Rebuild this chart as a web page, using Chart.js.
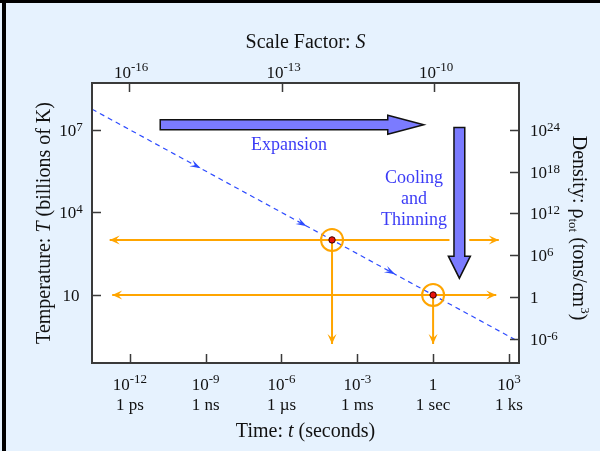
<!DOCTYPE html>
<html>
<head>
<meta charset="utf-8">
<script src="https://cdn.jsdelivr.net/npm/chart.js@4.4.0/dist/chart.umd.min.js"></script>
<style>
  html, body { margin: 0; padding: 0; background: #e6f2fe; }
  canvas { display: block; }
</style>
</head>
<body>
<canvas id="cosmo" width="600" height="451"></canvas>
<script>
// values are log10 of the quantities
const logTime = [-13.5, -4, 0, 3.4];        // time (s)
const logTemp = [7.75, 3, 1, -0.7];          // temperature (billions of K)

// marked epochs
const eventTime = [-4, 0];
const eventTemp = [3, 1];
const guideLeft = [-12.8, -12.7];
const guideRight = [2.6, 2.5];
const guideFloor = [-0.78, -0.78];

// little direction arrows on the dashed track
const flowTime = [-9.2, -5.0, -1.5];
const flowTemp = [5.6, 3.5, 1.75];

// big annotation arrows: [tail, tip]
const expansionTime = [-10.8, -0.37];
const expansionTemp = [7.18, 7.18];
const coolingTime = [1.04, 1.04];
const coolingTemp = [7.08, 1.61];

// tick labels
const timeTicks = [-12, -9, -6, -3, 0, 3];
const timeUnits = ['1 ps', '1 ns', '1 \u00b5s', '1 ms', '1 sec', '1 ks'];
const scaleTicks = [-16, -13, -10];
const tempTicks = [1, 4, 7];
const densityTicks = [-6, 0, 6, 12, 18, 24];

const SERIF = '"Liberation Serif", "DejaVu Serif", serif';
const ORANGE = '#ffa500';
const TRACK = '#2d4bff';
const TEXTBLUE = '#3c3cf6';

function fixed(size, key) {
    return function (scale) { scale[key] = size; };
}

function powerParts(e) {
    if (e === 0) return ['1', ''];
    if (e === 1) return ['10', ''];
    return ['10', String(e)];
}

// draw "10^e" with a raised exponent
function drawPower(ctx, e, x, y, align, raise) {
    const [base, exp] = powerParts(e);
    ctx.font = '17px ' + SERIF;
    const bw = ctx.measureText(base).width;
    ctx.font = '13px ' + SERIF;
    const ew = exp ? ctx.measureText(exp).width : 0;
    const total = bw + ew;
    let x0 = x;
    if (align === 'center') x0 = x - total / 2;
    if (align === 'right') x0 = x - total;
    ctx.textAlign = 'left';
    ctx.textBaseline = 'alphabetic';
    ctx.font = '17px ' + SERIF;
    ctx.fillText(base, x0, y);
    if (exp) {
        ctx.font = '13px ' + SERIF;
        ctx.fillText(exp, x0 + bw, y - raise);
    }
}

// draw a run of [text, font, dy] pieces starting at x
function drawRun(ctx, parts, x, y, align) {
    let total = 0;
    parts.forEach(p => { ctx.font = p[1]; total += ctx.measureText(p[0]).width; });
    let cx = align === 'center' ? x - total / 2 : x;
    ctx.textAlign = 'left';
    ctx.textBaseline = 'alphabetic';
    parts.forEach(p => {
        ctx.font = p[1];
        ctx.fillText(p[0], cx, y + (p[2] || 0));
        cx += ctx.measureText(p[0]).width;
    });
}

function blockArrow(ctx, x1, y1, x2, y2, shaft, head, headLen) {
    const ang = Math.atan2(y2 - y1, x2 - x1);
    const len = Math.hypot(x2 - x1, y2 - y1);
    ctx.save();
    ctx.translate(x1, y1);
    ctx.rotate(ang);
    ctx.beginPath();
    ctx.moveTo(0, -shaft);
    ctx.lineTo(len - headLen, -shaft);
    ctx.lineTo(len - headLen, -head);
    ctx.lineTo(len, 0);
    ctx.lineTo(len - headLen, head);
    ctx.lineTo(len - headLen, shaft);
    ctx.lineTo(0, shaft);
    ctx.closePath();
    ctx.restore();
}

function barbHead(ctx, x, y, ang, len, half, color) {
    ctx.save();
    ctx.translate(x, y);
    ctx.rotate(ang);
    ctx.beginPath();
    ctx.moveTo(0, 0);
    ctx.lineTo(-len, -half);
    ctx.lineTo(-len * 0.6, 0);
    ctx.lineTo(-len, half);
    ctx.closePath();
    ctx.fillStyle = color;
    ctx.fill();
    ctx.restore();
}

const decor = {
    id: 'decor',
    beforeDraw(chart) {
        const ctx = chart.ctx;
        const a = chart.chartArea;
        ctx.save();
        ctx.fillStyle = '#e6f2fe';
        ctx.fillRect(0, 0, chart.width, chart.height);
        ctx.fillStyle = '#000';
        ctx.fillRect(0, 0, chart.width, 3);
        ctx.fillRect(2, 0, 4, chart.height);
        ctx.fillStyle = '#fff';
        ctx.fillRect(a.left, a.top, a.right - a.left, a.bottom - a.top);
        ctx.restore();
    },
    afterDatasetsDraw(chart) {
        const ctx = chart.ctx;
        const sx = chart.scales.x, sy = chart.scales.y;
        ctx.save();

        // orange guide arrowheads
        eventTime.forEach((t, i) => {
            const yy = sy.getPixelForValue(eventTemp[i]);
            barbHead(ctx, sx.getPixelForValue(guideLeft[i]), yy, Math.PI, 10, 4.5, ORANGE);
            barbHead(ctx, sx.getPixelForValue(guideRight[i]), yy, 0, 10, 4.5, ORANGE);
            barbHead(ctx, sx.getPixelForValue(t), sy.getPixelForValue(guideFloor[i]), Math.PI / 2, 10, 4.5, ORANGE);
        });

        // small arrows on the dashed track
        const ang = Math.atan2(
            sy.getPixelForValue(logTemp[logTemp.length - 1]) - sy.getPixelForValue(logTemp[0]),
            sx.getPixelForValue(logTime[logTime.length - 1]) - sx.getPixelForValue(logTime[0]));
        flowTime.forEach((t, i) => {
            barbHead(ctx, sx.getPixelForValue(t), sy.getPixelForValue(flowTemp[i]), ang, 11, 3.5, TRACK);
        });

        // big arrows
        const drawBig = (tt, TT, shaft, head, headLen) => {
            const x1 = sx.getPixelForValue(tt[0]), y1 = sy.getPixelForValue(TT[0]);
            const x2 = sx.getPixelForValue(tt[1]), y2 = sy.getPixelForValue(TT[1]);
            blockArrow(ctx, x1, y1, x2, y2, shaft, head, headLen);
            ctx.lineJoin = 'miter';
            ctx.strokeStyle = '#fff';
            ctx.lineWidth = 9;
            ctx.stroke();
            ctx.fillStyle = '#7b7bff';
            ctx.fill();
            ctx.strokeStyle = '#111';
            ctx.lineWidth = 1.5;
            ctx.stroke();
        };
        drawBig(expansionTime, expansionTemp, 5, 9.5, 36);
        drawBig(coolingTime, coolingTemp, 5.4, 11, 22);

        // annotation text
        ctx.fillStyle = TEXTBLUE;
        ctx.font = '18px ' + SERIF;
        ctx.textAlign = 'center';
        ctx.textBaseline = 'alphabetic';
        ctx.fillText('Expansion', 289, 150);
        ctx.fillText('Cooling', 414, 183);
        ctx.fillText('and', 414, 204);
        ctx.fillText('Thinning', 414, 225);
        ctx.restore();
    },
    afterDraw(chart) {
        const ctx = chart.ctx;
        const a = chart.chartArea;
        const s = chart.scales;
        ctx.save();

        // frame and inward ticks
        ctx.strokeStyle = '#3a3a3a';
        ctx.lineWidth = 1.5;
        ctx.beginPath();
        timeTicks.forEach(v => {
            const x = Math.round(s.x.getPixelForValue(v)) + 0.5;
            ctx.moveTo(x, a.bottom); ctx.lineTo(x, a.bottom - 9);
        });
        scaleTicks.forEach(v => {
            const x = Math.round(s.x2.getPixelForValue(v)) + 0.5;
            ctx.moveTo(x, a.top); ctx.lineTo(x, a.top + 9);
        });
        tempTicks.forEach(v => {
            const y = Math.round(s.y.getPixelForValue(v)) + 0.5;
            ctx.moveTo(a.left, y); ctx.lineTo(a.left + 9, y);
        });
        densityTicks.forEach(v => {
            const y = Math.round(s.y2.getPixelForValue(v)) + 0.5;
            ctx.moveTo(a.right, y); ctx.lineTo(a.right - 9, y);
        });
        ctx.stroke();
        ctx.lineWidth = 2;
        ctx.strokeRect(a.left, a.top, a.right - a.left, a.bottom - a.top);

        // tick labels
        ctx.fillStyle = '#111';
        timeTicks.forEach((v, i) => {
            const x = s.x.getPixelForValue(v);
            drawPower(ctx, v, x, a.bottom + 27, 'center', 7);
            ctx.font = '17px ' + SERIF;
            ctx.textAlign = 'center';
            ctx.fillText(timeUnits[i], x, a.bottom + 47);
        });
        scaleTicks.forEach(v => {
            drawPower(ctx, v, s.x2.getPixelForValue(v) + 2, a.top - 5, 'center', 7);
        });
        tempTicks.forEach(v => {
            drawPower(ctx, v, 71, s.y.getPixelForValue(v) + 6, 'center', 5);
        });
        densityTicks.forEach(v => {
            drawPower(ctx, v, a.right + 11, s.y2.getPixelForValue(v) + 6, 'left', 5);
        });

        // axis titles
        const mid = (a.left + a.right) / 2;
        const f20 = '20px ' + SERIF, i20 = 'italic 20px ' + SERIF;
        drawRun(ctx, [['Scale Factor: ', f20], ['S', i20]], mid, 48, 'center');
        drawRun(ctx, [['Time: ', f20], ['t', i20], [' (seconds)', f20]], mid, 437, 'center');

        ctx.save();
        ctx.translate(50, (a.top + a.bottom) / 2);
        ctx.rotate(-Math.PI / 2);
        drawRun(ctx, [['Temperature: ', f20], ['T', i20], [' (billions of K)', f20]], 0, 0, 'center');
        ctx.restore();

        ctx.save();
        ctx.translate(573, (a.top + a.bottom) / 2 + 5);
        ctx.rotate(Math.PI / 2);
        const f13 = '13px ' + SERIF;
        drawRun(ctx, [['Density: \u03c1', f20], ['tot', f13, 4], [' (tons/cm', f20], ['3', f13, -8], [')', f20]], 0, 0, 'center');
        ctx.restore();

        ctx.restore();
    }
};

const datasets = [];
datasets.push({
    type: 'line',
    data: logTime.map((t, i) => ({ x: t, y: logTemp[i] })),
    borderColor: TRACK,
    borderWidth: 1.2,
    borderDash: [5, 4],
    pointRadius: 0,
    order: 4
});
eventTime.forEach((t, i) => {
    datasets.push({
        type: 'line',
        data: [{ x: guideLeft[i], y: eventTemp[i] }, { x: guideRight[i], y: eventTemp[i] }],
        borderColor: ORANGE, borderWidth: 2, pointRadius: 0, order: 3
    });
    datasets.push({
        type: 'line',
        data: [{ x: t, y: eventTemp[i] }, { x: t, y: guideFloor[i] }],
        borderColor: ORANGE, borderWidth: 2, pointRadius: 0, order: 3
    });
});
datasets.push({
    data: eventTime.map((t, i) => ({ x: t, y: eventTemp[i] })),
    pointRadius: 11,
    borderColor: ORANGE,
    borderWidth: 2,
    backgroundColor: 'rgba(0,0,0,0)',
    order: 2
});
datasets.push({
    data: eventTime.map((t, i) => ({ x: t, y: eventTemp[i] })),
    pointRadius: 3.2,
    borderColor: '#3a0000',
    borderWidth: 1,
    backgroundColor: '#e8140c',
    order: 1
});

const hidden = { display: false };
new Chart(document.getElementById('cosmo'), {
    type: 'scatter',
    data: { datasets: datasets },
    options: {
        responsive: false,
        animation: false,
        devicePixelRatio: 1,
        layout: { padding: 0 },
        plugins: { legend: hidden, tooltip: { enabled: false } },
        scales: {
            x: {
                type: 'linear', position: 'bottom', min: -13.5, max: 3.4,
                grid: hidden, border: hidden, ticks: hidden,
                afterBuildTicks: s => { s.ticks = timeTicks.map(v => ({ value: v })); },
                afterFit: fixed(88, 'height')
            },
            x2: {
                type: 'linear', position: 'top', min: -16.73, max: -8.33,
                grid: hidden, border: hidden, ticks: hidden,
                afterBuildTicks: s => { s.ticks = scaleTicks.map(v => ({ value: v })); },
                afterFit: fixed(83, 'height')
            },
            y: {
                type: 'linear', position: 'left', min: -1.47, max: 8.7,
                grid: hidden, border: hidden, ticks: hidden,
                afterBuildTicks: s => { s.ticks = tempTicks.map(v => ({ value: v })); },
                afterFit: fixed(92, 'width')
            },
            y2: {
                type: 'linear', position: 'right', min: -9.44, max: 30.7,
                grid: hidden, border: hidden, ticks: hidden,
                afterBuildTicks: s => { s.ticks = densityTicks.map(v => ({ value: v })); },
                afterFit: fixed(81, 'width')
            }
        }
    },
    plugins: [decor]
});
</script>
</body>
</html>
